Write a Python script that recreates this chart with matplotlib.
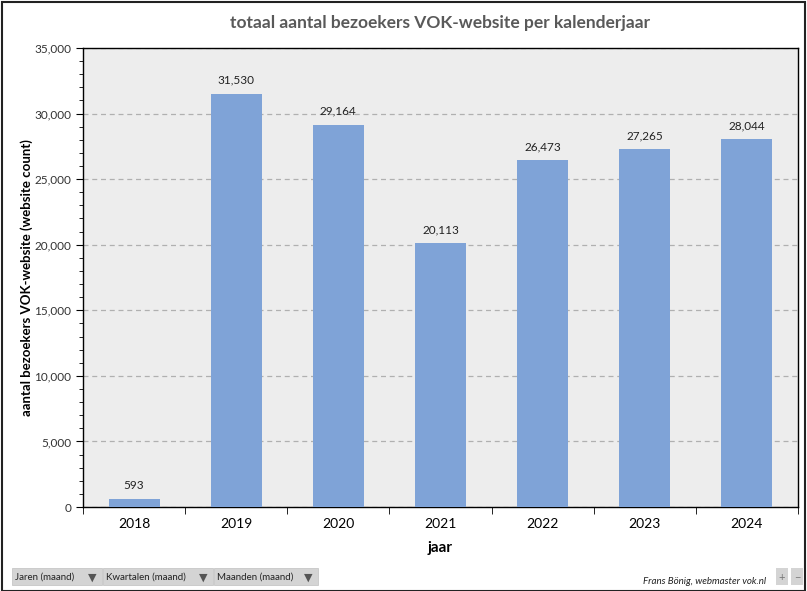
import matplotlib
matplotlib.use("Agg")
import matplotlib.pyplot as plt
from matplotlib.patches import Rectangle
from matplotlib.ticker import MultipleLocator, FuncFormatter

jaren = ["2018", "2019", "2020", "2021", "2022", "2023", "2024"]
bezoekers = [593, 31530, 29164, 20113, 26473, 27265, 28044]
knoppen = ["Jaren (maand)", "Kwartalen (maand)", "Maanden (maand)"]

plt.rcParams['font.family'] = ['Lato', 'DejaVu Sans']

fig = plt.figure(figsize=(8.07, 5.91), dpi=100)
W, H = 807, 591
ax = fig.add_axes([83 / W, 1 - 507 / H, (798 - 83) / W, (507 - 48) / H])
ax.set_facecolor("#ededed")

x = range(len(jaren))
ax.bar(x, bezoekers, width=0.5, color="#7fa3d7", zorder=3)
for i, v in enumerate(bezoekers):
    ax.text(i, v + 600, f"{v:,}", ha="center", va="bottom", fontsize=8.5, color="#222222")

ax.set_xlim(-0.5, len(jaren) - 0.5)
ax.set_ylim(0, 35000)
ax.set_xticks(list(x))
ax.set_xticklabels(jaren, fontsize=10)
ax.set_xticks([i - 0.5 for i in range(len(jaren) + 1)], minor=True)
ax.tick_params(axis="x", which="major", length=0, pad=8)
ax.tick_params(axis="x", which="minor", length=5, direction="out")
ax.yaxis.set_major_locator(MultipleLocator(5000))
ax.yaxis.set_minor_locator(MultipleLocator(1000))
ax.yaxis.set_major_formatter(FuncFormatter(lambda v, p: f"{int(v):,}"))
ax.tick_params(axis="y", which="major", length=5, labelsize=8.5, labelcolor="#333333")
ax.tick_params(axis="y", which="minor", length=3)
ax.grid(axis="y", which="major", linestyle=(0, (4, 3)), color="#b0b0b0", linewidth=0.9, zorder=0)
for s in ax.spines.values():
    s.set_color("black")
    s.set_linewidth(1)

ax.set_xlabel("jaar", fontsize=11, fontweight="bold", labelpad=8)
ax.set_ylabel("aantal bezoekers VOK-website (website count)", fontsize=9.5, fontweight="bold")
ax.yaxis.set_label_coords((33 - 83) / 715, 0.5)
fig.text(440 / W, 1 - 23 / H, "totaal aantal bezoekers VOK-website per kalenderjaar",
         ha="center", va="center", fontsize=12.5, fontweight="bold", color="#595959")

# kader rond de grafiek
fig.patches.append(Rectangle((2 / W, 0), (803) / W, 1 - 2 / H, transform=fig.transFigure,
                             fill=False, edgecolor="#222222", linewidth=1.5))

# filterknoppen onderaan
x0 = 12
breedtes = [90, 110, 104]
for tekst, b in zip(knoppen, breedtes):
    fig.patches.append(Rectangle((x0 / W, 1 - 585 / H), b / W, 17 / H, transform=fig.transFigure,
                                 facecolor="#d4d4d4", edgecolor="#c0c0c0", linewidth=0.5))
    fig.text((x0 + 3) / W, 1 - 577 / H, tekst, fontsize=7, va="center", color="#222222")
    fig.text((x0 + b - 14) / W, 1 - 577 / H, "\u25bc", fontsize=8, va="center", color="#555555")
    x0 += b + 1

for xb, t in [(782, "+"), (797, "\u2212")]:
    fig.patches.append(Rectangle(((xb - 6) / W, 1 - 585 / H), 12 / W, 17 / H, transform=fig.transFigure,
                                 facecolor="#d4d4d4", edgecolor="none"))
    fig.text(xb / W, 1 - 577 / H, t, fontsize=8, ha="center", va="center", color="#777777")

fig.text(766 / W, 1 - 582 / H, "Frans Bönig, webmaster vok.nl", ha="right", va="center",
         fontsize=7, style="italic", color="#222222")

fig.savefig("out.png", dpi=100)
